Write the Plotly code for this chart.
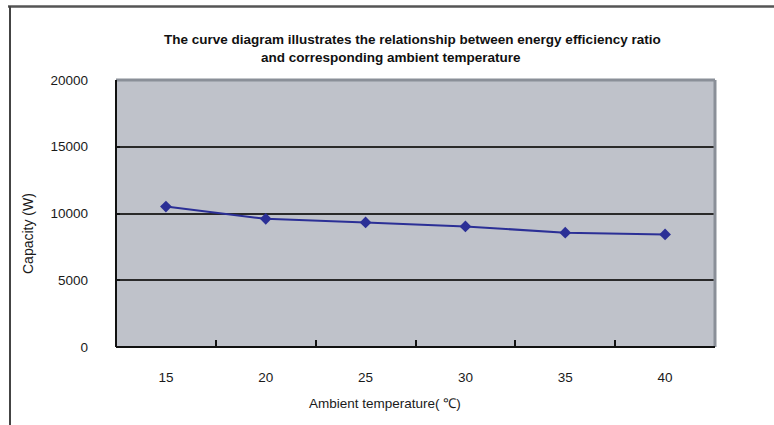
import plotly.graph_objects as go

temperatures = ["15", "20", "25", "30", "35", "40"]
capacity = [10520, 9600, 9330, 9030, 8560, 8430]
y_ticks = [0, 5000, 10000, 15000, 20000]

title_line1 = "The curve diagram illustrates the relationship between energy efficiency ratio"
title_line2 = "and corresponding ambient temperature"
x_title = "Ambient temperature( ℃)"
y_title = "Capacity (W)"

W, H = 774, 425
L, R, T, B = 116, 715, 80, 347
pw, ph = R - L, B - T

def px(x):
    return (x - L) / pw

def py(y):
    return (B - y) / ph

FONT = "Liberation Sans, Arial, sans-serif"
TXT = "#1a1a1a"

fig = go.Figure()
fig.add_trace(go.Scatter(
    x=temperatures, y=capacity, mode="lines+markers",
    line=dict(color="#2b2f96", width=2),
    marker=dict(symbol="diamond", size=9, color="#2b2f96"),
    showlegend=False, cliponaxis=False,
))

fig.update_layout(
    width=W, height=H,
    margin=dict(l=L, r=W - R, t=T, b=H - B, pad=0),
    paper_bgcolor="white",
    plot_bgcolor="#bfc2ca",
    font=dict(family=FONT, size=13.5, color=TXT),
    showlegend=False,
)

fig.update_xaxes(
    type="category", range=[-0.5, 5.5],
    tickson="boundaries", ticks="inside", ticklen=7, tickwidth=1.5, tickcolor="#111",
    showgrid=False, showline=False, zeroline=False,
    tickfont=dict(size=13.5, family=FONT, color=TXT),
    ticklabelstandoff=20,
)
fig.update_yaxes(
    range=[0, 20000], tickvals=y_ticks, ticktext=[str(v) for v in y_ticks],
    ticks="inside", ticklen=4, tickwidth=1.5, tickcolor="#111",
    showgrid=True, gridcolor="#2a2a2a", gridwidth=1.5,
    showline=False, zeroline=False,
    tickfont=dict(size=13.5, family=FONT, color=TXT),
    ticklabelstandoff=27,
)

shapes = [
    dict(type="line", xref="paper", yref="paper", x0=0, x1=1, y0=1, y1=1,
         line=dict(color="#8a8f98", width=3)),
    dict(type="line", xref="paper", yref="paper", x0=1, x1=1, y0=0, y1=1,
         line=dict(color="#8a8f98", width=3)),
    dict(type="line", xref="paper", yref="paper", x0=0, x1=0, y0=0, y1=1,
         line=dict(color="#111", width=2)),
    dict(type="line", xref="paper", yref="paper", x0=0, x1=1, y0=0, y1=0,
         line=dict(color="#111", width=2)),
    dict(type="line", xref="paper", yref="paper", x0=px(8), x1=px(774), y0=py(6.5), y1=py(6.5),
         line=dict(color="#555", width=2.5)),
    dict(type="line", xref="paper", yref="paper", x0=px(10), x1=px(10), y0=py(6), y1=py(425),
         line=dict(color="#444", width=2)),
]
fig.update_layout(shapes=shapes)

fig.add_annotation(
    text=title_line1, xref="paper", yref="paper", x=px(412), y=py(39),
    showarrow=False, xanchor="center", yanchor="middle",
    font=dict(size=13.5, family=FONT, color="#111", weight="bold"),
)
fig.add_annotation(
    text=title_line2, xref="paper", yref="paper", x=px(391), y=py(57.5),
    showarrow=False, xanchor="center", yanchor="middle",
    font=dict(size=13.5, family=FONT, color="#111", weight="bold"),
)
fig.add_annotation(
    text=x_title, xref="paper", yref="paper", x=px(385), y=py(403),
    showarrow=False, xanchor="center", yanchor="middle",
    font=dict(size=13.5, family=FONT, color=TXT),
)
fig.add_annotation(
    text=y_title, xref="paper", yref="paper", x=px(28), y=py(234),
    showarrow=False, xanchor="center", yanchor="middle", textangle=-90,
    font=dict(size=14, family=FONT, color=TXT),
)

fig.write_html("out.html", config={"displayModeBar": False},
               post_script="document.body.style.margin='0';")
